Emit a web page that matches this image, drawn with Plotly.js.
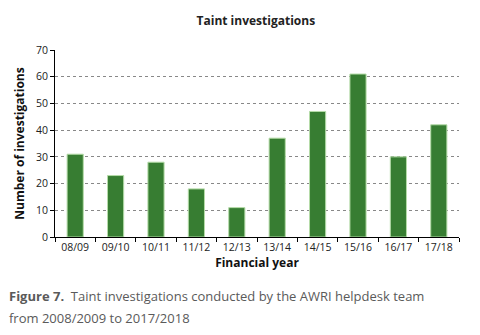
<!DOCTYPE html>
<html>
<head>
<meta charset="utf-8">
<script src="https://cdn.plot.ly/plotly-3.0.1.min.js"></script>
<style>
html,body{margin:0;padding:0;background:#fff;}
#chart{width:480px;height:335px;}
</style>
</head>
<body>
<div id="chart"></div>
<script>
const categories = ["08/09","09/10","10/11","11/12","12/13","13/14","14/15","15/16","16/17","17/18"];
const investigations = [31, 23, 28, 18, 11, 37, 47, 61, 30, 42];
const yTicks = [0,10,20,30,40,50,60,70];

const trace = {
  type: "bar",
  x: categories,
  y: investigations,
  marker: {color: "#377d32", line: {color: "#b5dca8", width: 1}},
  hoverinfo: "x+y"
};

const font = "'Open Sans', 'Noto Sans', sans-serif";

const layout = {
  width: 480, height: 335,
  margin: {l: 55, r: 21, t: 50, b: 98},
  paper_bgcolor: "#fff", plot_bgcolor: "#fff",
  bargap: 0.6,
  showlegend: false,
  font: {family: font, color: "#222", size: 10.5},
  title: {text: "<b>Taint investigations</b>", x: 0.533, xanchor: "center", y: 0.937, yanchor: "middle",
          font: {family: font, size: 12, color: "#222"}},
  xaxis: {
    type: "category",
    showline: true, linecolor: "#000", linewidth: 1,
    ticks: "outside", tickson: "boundaries", ticklen: 4, tickcolor: "#000",
    showgrid: false,
    tickfont: {size: 10.5, color: "#222"},
    title: {text: "<b>Financial year</b>", font: {size: 12, color: "#111"}, standoff: 6}
  },
  yaxis: {
    range: [0, 70], tickvals: yTicks,
    showline: true, linecolor: "#000", linewidth: 1,
    ticks: "outside", ticklen: 4, tickcolor: "#000",
    showgrid: true, gridcolor: "#888", griddash: "dot", gridwidth: 1,
    zeroline: false,
    tickfont: {size: 10.5, color: "#222"},
    title: {text: "<b>Number of investigations</b>", font: {size: 12, color: "#111"}, standoff: 8}
  },
  annotations: [
    {xref: "paper", yref: "paper", x: -0.118, xanchor: "left", y: -0.316, yanchor: "middle", showarrow: false,
     align: "left",
     text: "<b>Figure 7.</b>  Taint investigations conducted by the AWRI helpdesk team",
     font: {family: font, size: 13, color: "#5a5a5a"}},
    {xref: "paper", yref: "paper", x: -0.118, xanchor: "left", y: -0.433, yanchor: "middle", showarrow: false,
     align: "left",
     text: "from 2008/2009 to 2017/2018",
     font: {family: font, size: 13, color: "#5a5a5a"}}
  ]
};

Plotly.newPlot("chart", [trace], layout, {displayModeBar: false, staticPlot: true});
</script>
</body>
</html>
